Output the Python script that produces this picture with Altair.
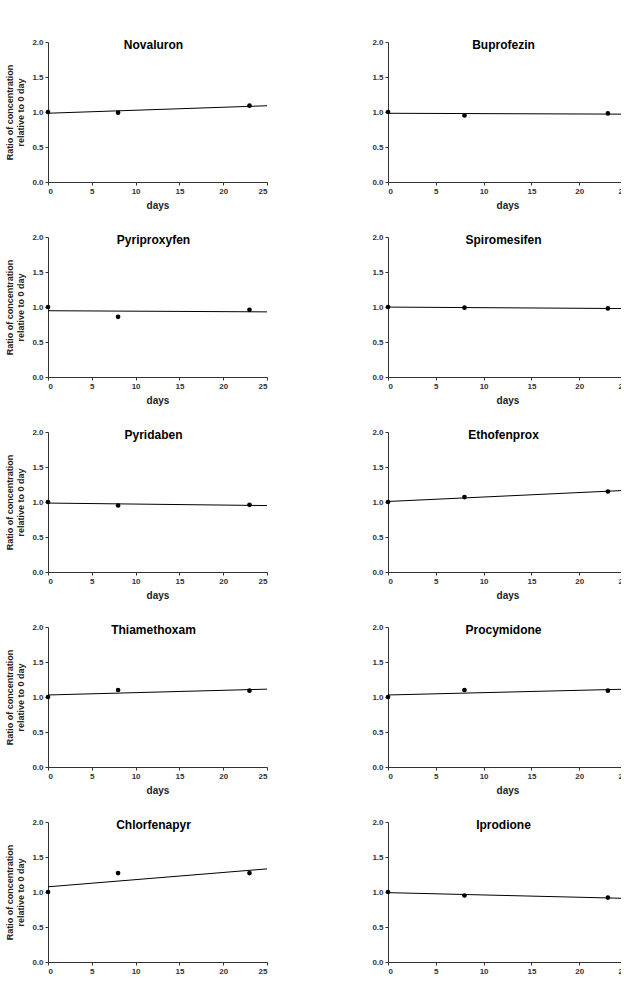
import altair as alt
import pandas as pd

# ---- data ----
compounds_left = ["Novaluron", "Pyriproxyfen", "Pyridaben", "Thiamethoxam", "Chlorfenapyr"]
compounds_right = ["Buprofezin", "Spiromesifen", "Ethofenprox", "Procymidone", "Iprodione"]
days = [0, 8, 23]
novaluron = [1.00, 0.99, 1.09]
buprofezin = [1.00, 0.95, 0.98]
pyriproxyfen = [1.00, 0.86, 0.96]
spiromesifen = [1.00, 0.99, 0.98]
pyridaben = [1.00, 0.95, 0.96]
ethofenprox = [1.00, 1.07, 1.15]
thiamethoxam = [1.00, 1.10, 1.09]
procymidone = [1.00, 1.10, 1.09]
chlorfenapyr = [1.00, 1.27, 1.27]
iprodione = [1.00, 0.95, 0.92]
x_ticks = [0, 5, 10, 15, 20, 25]
y_ticks = [0.0, 0.5, 1.0, 1.5, 2.0]

series = {
    "Novaluron": novaluron, "Buprofezin": buprofezin,
    "Pyriproxyfen": pyriproxyfen, "Spiromesifen": spiromesifen,
    "Pyridaben": pyridaben, "Ethofenprox": ethofenprox,
    "Thiamethoxam": thiamethoxam, "Procymidone": procymidone,
    "Chlorfenapyr": chlorfenapyr, "Iprodione": iprodione,
}

FONT = "Liberation Sans"


def panel(name, width, show_ytitle):
    df = pd.DataFrame({"days": days, "ratio": series[name]})
    base = alt.Chart(df)
    yaxis_kw = dict(values=y_ticks, format=".1f")
    if show_ytitle:
        yaxis_kw["title"] = ["Ratio of concentration", "relative to 0 day"]
    else:
        yaxis_kw["title"] = ""
    x = alt.X("days:Q", scale=alt.Scale(domain=[0, 25], nice=False),
              axis=alt.Axis(values=x_ticks, format="d", title="days"))
    y = alt.Y("ratio:Q", scale=alt.Scale(domain=[0, 2], nice=False),
              axis=alt.Axis(**yaxis_kw))
    fit = base.transform_regression("days", "ratio", extent=[0, 25]).mark_line(
        color="black", strokeWidth=1).encode(x=x, y=y)
    pts = base.mark_circle(size=22, color="black", opacity=1).encode(x=x, y=y)
    return alt.layer(fit, pts).properties(
        width=width, height=140,
        title=alt.TitleParams(name, font=FONT, fontSize=12, fontWeight="bold",
                              color="black", anchor="middle", offset=-14, dx=-4),
    )


rows = []
for l, r in zip(compounds_left, compounds_right):
    rows.append(alt.hconcat(panel(l, 219, True), panel(r, 239, False), spacing=102))

chart = alt.vconcat(*rows, spacing=23).properties(
    padding={"left": 5, "top": 38, "right": -8, "bottom": -10},
    background="white",
).configure_view(stroke=None).configure_axis(
    grid=False,
    labelFont=FONT, labelFontSize=8, labelFontWeight="bold", labelColor="#333333",
    titleFont=FONT, titleFontSize=10, titleFontWeight="bold", titleColor="#222222",
    domainColor="#333333", tickColor="#333333", tickSize=3, labelPadding=2,
).configure_axisX(titlePadding=5).configure_axisY(
    titleFontSize=9, titleLineHeight=11.5, titlePadding=6
)

chart.save("out.html", embed_options={"renderer": "svg", "actions": False})
